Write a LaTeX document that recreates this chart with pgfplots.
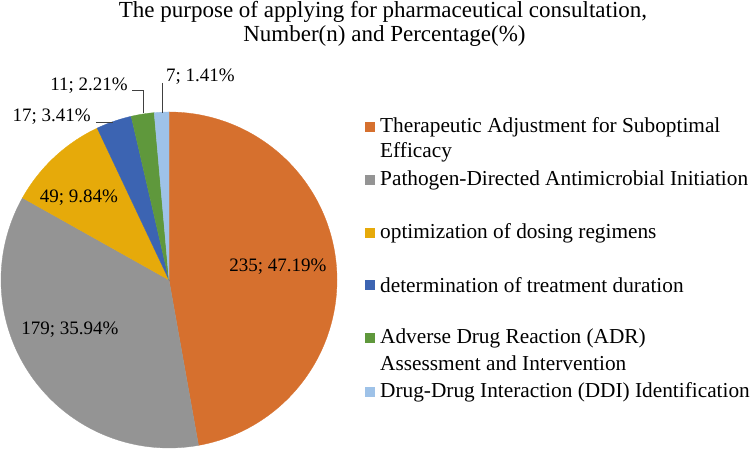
\documentclass[border=0pt]{standalone}
\usepackage{pgfplots}
\usepackage{pgfplotstable}
\pgfplotsset{compat=1.18}
\usepackage{fontspec}
\setmainfont{Liberation Serif}

\definecolor{c0}{RGB}{214,112,46}
\definecolor{c1}{RGB}{148,148,148}
\definecolor{c2}{RGB}{230,170,10}
\definecolor{c3}{RGB}{60,100,178}
\definecolor{c4}{RGB}{95,152,60}
\definecolor{c5}{RGB}{158,194,232}

\pgfplotstableread{
n pct
235 47.19
179 35.94
49 9.84
17 3.41
11 2.21
7 1.41
}\datatable

\gdef\cumval{0}
\foreach \i in {0,...,5}{%
  \pgfplotstablegetelem{\i}{n}\of\datatable
  \pgfmathsetmacro\start{90-(\cumval/498)*360}%
  \pgfmathsetmacro\newcum{\cumval+\pgfplotsretval}%
  \pgfmathsetmacro\stop{90-(\newcum/498)*360}%
  \expandafter\xdef\csname angS\i\endcsname{\start}%
  \expandafter\xdef\csname angE\i\endcsname{\stop}%
  \xdef\cumval{\newcum}%
}

\newcommand\slice[1]{%
  \addplot[draw=c#1, line width=0.3pt, fill=c#1,
    domain=\csname angE#1\endcsname:\csname angS#1\endcsname, samples=120]
    ({cos(x)},{sin(x)}) -- (0,0) -- cycle;}

\begin{document}
\begin{tikzpicture}[x=1bp,y=1bp,font=\fontsize{19bp}{23bp}\selectfont]
\useasboundingbox (0,0) rectangle (750,451);
\begin{axis}[hide axis, scale only axis, width=336bp, height=336bp,
  xmin=-1, xmax=1, ymin=-1, ymax=1, at={(169bp,171bp)}, anchor=center, clip=false]
\slice{0}
\slice{1}
\slice{2}
\slice{3}
\slice{4}
\slice{5}
\end{axis}

% title
\begin{scope}[every node/.style={inner sep=0, anchor=base, font=\fontsize{23bp}{26bp}\selectfont}]
\node at (383,433) {The purpose of applying for pharmaceutical consultation,};
\node at (384.5,409) {Number(n) and Percentage(\%)};
\end{scope}

% data labels
\node[inner sep=0] at (278,184) {235; 47.19\%};
\node[inner sep=0] at (70,121) {179; 35.94\%};
\node[inner sep=0] at (79,253) {49; 9.84\%};
\node[inner sep=0, anchor=east] at (91,334) {17; 3.41\%};
\node[inner sep=0, anchor=east] at (128,365) {11; 2.21\%};
\node[inner sep=0, anchor=west] at (166,374) {7; 1.41\%};
\draw[black!75, line width=0.8bp] (96,329) -- (113,329);
\draw[black!75, line width=0.8bp] (132,361) -- (143,361) -- (143,338);
\draw[black!75, line width=0.8bp] (162,368) -- (162,338);

% legend
\begin{scope}[every node/.style={inner sep=0, anchor=west, font=\fontsize{21.3bp}{25bp}\selectfont}]
\fill[c0] (365,319) rectangle (375,329);
\node at (380,324) {Therapeutic Adjustment for Suboptimal};
\node at (380,299) {Efficacy};
\fill[c1] (365,266) rectangle (375,276);
\node at (380,271) {Pathogen-Directed Antimicrobial Initiation};
\fill[c2] (365,213) rectangle (375,223);
\node at (380,218) {optimization of dosing regimens};
\fill[c3] (365,161) rectangle (375,171);
\node at (380,166) {determination of treatment duration};
\fill[c4] (365,108) rectangle (375,118);
\node at (380,113) {Adverse Drug Reaction (ADR)};
\node at (380,88) {Assessment and Intervention};
\fill[c5] (365,54) rectangle (375,64);
\node at (380,59) {Drug-Drug Interaction (DDI) Identification};
\end{scope}
\end{tikzpicture}
\end{document}
